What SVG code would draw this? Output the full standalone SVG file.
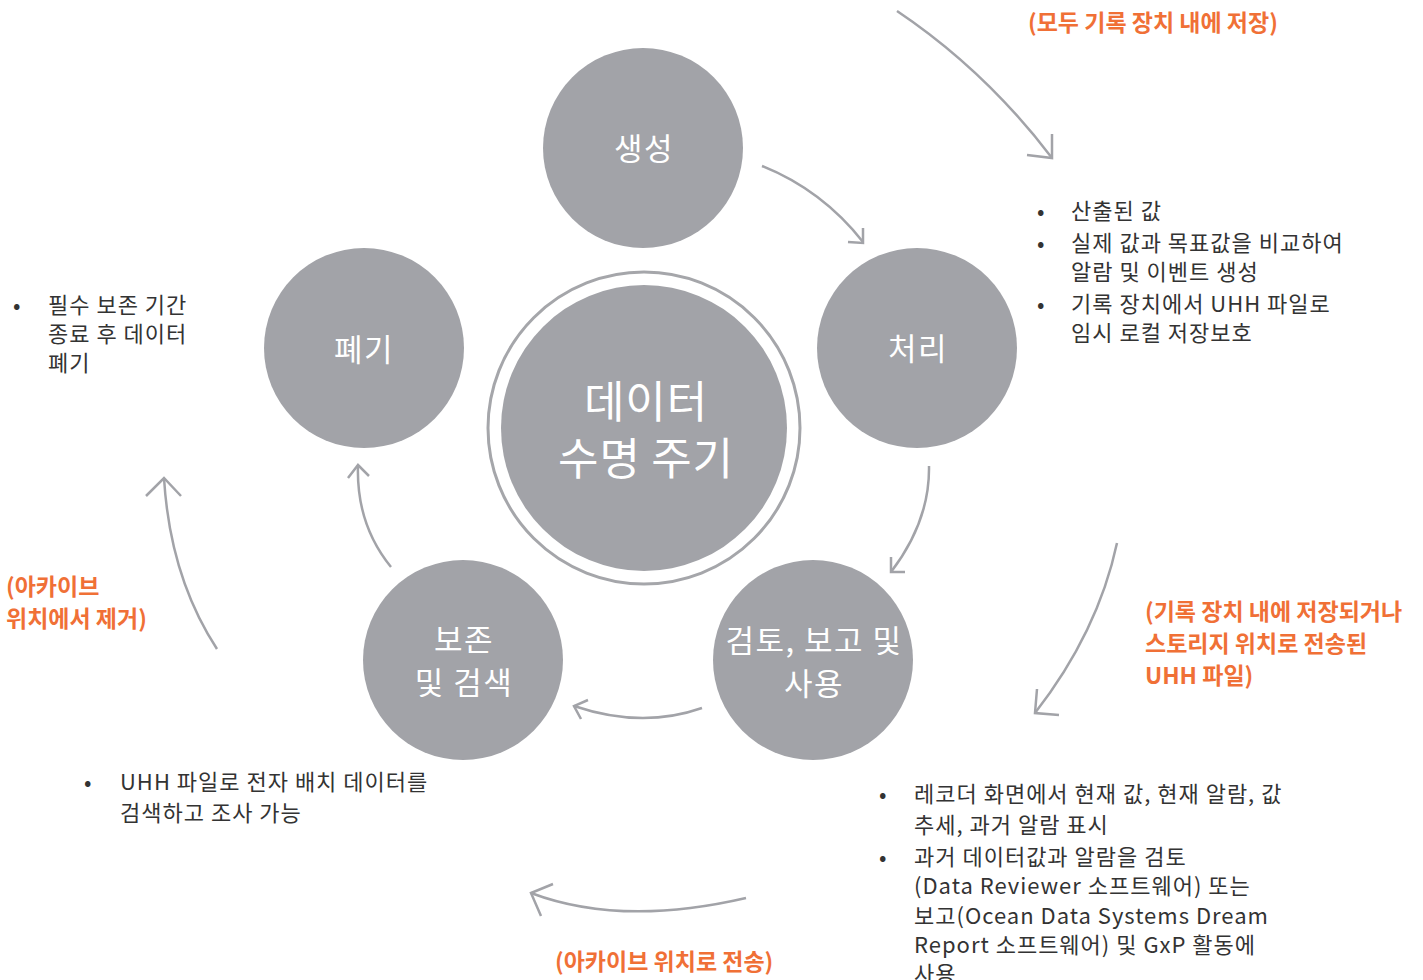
<svg xmlns="http://www.w3.org/2000/svg" width="1423" height="980" viewBox="0 0 1423 980">
<style>
  .node { fill: #a2a3a8; }
  .ring { fill: none; stroke: #a5a6aa; stroke-width: 3; }
  .lbl { font-family: "Noto Sans CJK KR", "Noto Sans", sans-serif; fill: #ffffff; text-anchor: middle; }
  .n { font-size: 31px; letter-spacing: 1.5px; }
  .big { font-size: 44px; letter-spacing: 0.8px; }
  .conn { fill: none; stroke: #a2a3a8; stroke-width: 2.5; }
  .org { font-family: "Noto Sans CJK KR", "Noto Sans", sans-serif; font-size: 23px; font-weight: bold; fill: #f07036; }
  .txt { font-family: "Noto Sans CJK KR", "Noto Sans", sans-serif; font-size: 22px; letter-spacing: 1px; fill: #333333; }
</style>
<rect width="1423" height="980" fill="#ffffff"/>

<g id="connectors">
  <path class="conn" d="M897,11 Q985,70 1052,158"/>
  <path class="conn" d="M1052,134 L1052,158 L1027,155"/>
  <path class="conn" d="M762,166 Q822,190 863,242"/>
  <path class="conn" d="M863,228 L863,243 L848,242"/>
  <path class="conn" d="M929,466 Q930,521 891,572"/>
  <path class="conn" d="M891,557 L891,572 L905,572"/>
  <path class="conn" d="M1117,543 Q1098,632 1035,713"/>
  <path class="conn" d="M1037,689 L1035,713 L1059,715"/>
  <path class="conn" d="M702,708 Q642,729 574,706"/>
  <path class="conn" d="M588,700 L574,706 L581,719"/>
  <path class="conn" d="M746,898 Q621,927 531,893"/>
  <path class="conn" d="M553,884 L531,893 L541,916"/>
  <path class="conn" d="M391,567 Q356,524 358,465"/>
  <path class="conn" d="M348,478 L358,465 L369,476"/>
  <path class="conn" d="M217,649 Q170,577 164,478"/>
  <path class="conn" d="M146,496 L164,478 L181,496"/>
</g>

<g id="center">
  <circle class="ring" cx="644" cy="428" r="156"/>
  <circle class="node" cx="644" cy="428" r="143"/>
  <text class="lbl big" x="646" y="418">데이터</text>
  <text class="lbl big" x="646" y="475">수명 주기</text>
</g>

<g id="node-create">
  <circle class="node" cx="643" cy="148" r="100"/>
  <text class="lbl n" x="644" y="160">생성</text>
</g>

<g id="node-process">
  <circle class="node" cx="917" cy="348" r="100"/>
  <text class="lbl n" x="918" y="360">처리</text>
</g>

<g id="node-review">
  <circle class="node" cx="813" cy="660" r="100"/>
  <text class="lbl n" x="814" y="652">검토, 보고 및</text>
  <text class="lbl n" x="814" y="695">사용</text>
</g>

<g id="node-preserve">
  <circle class="node" cx="463" cy="660" r="100"/>
  <text class="lbl n" x="464" y="651">보존</text>
  <text class="lbl n" x="464" y="694">및 검색</text>
</g>

<g id="node-dispose">
  <circle class="node" cx="364" cy="348" r="100"/>
  <text class="lbl n" x="364" y="361">폐기</text>
</g>

<g id="labels-orange">
  <text class="org" x="1028" y="31">(모두 기록 장치 내에 저장)</text>
  <text class="org" x="1145" y="620">(기록 장치 내에 저장되거나</text>
  <text class="org" x="1145" y="652">스토리지 위치로 전송된</text>
  <text class="org" x="1145" y="684">UHH 파일)</text>
  <text class="org" x="6" y="595">(아카이브</text>
  <text class="org" x="6" y="627">위치에서 제거)</text>
  <text class="org" x="555" y="970">(아카이브 위치로 전송)</text>
</g>

<g id="notes-process">
  <text class="txt" x="1037" y="219">•</text>
  <text class="txt" x="1071" y="219">산출된 값</text>
  <text class="txt" x="1037" y="251">•</text>
  <text class="txt" x="1071" y="251">실제 값과 목표값을 비교하여</text>
  <text class="txt" x="1071" y="280">알람 및 이벤트 생성</text>
  <text class="txt" x="1037" y="312">•</text>
  <text class="txt" x="1071" y="312">기록 장치에서 UHH 파일로</text>
  <text class="txt" x="1071" y="341">임시 로컬 저장보호</text>
</g>

<g id="notes-dispose">
  <text class="txt" x="13" y="313">•</text>
  <text class="txt" x="48" y="313">필수 보존 기간</text>
  <text class="txt" x="48" y="342">종료 후 데이터</text>
  <text class="txt" x="48" y="371">폐기</text>
</g>

<g id="notes-preserve">
  <text class="txt" x="84" y="790">•</text>
  <text class="txt" x="120" y="790">UHH 파일로 전자 배치 데이터를</text>
  <text class="txt" x="120" y="821">검색하고 조사 가능</text>
</g>

<g id="notes-review">
  <text class="txt" x="879" y="802">•</text>
  <text class="txt" x="914" y="802">레코더 화면에서 현재 값, 현재 알람, 값</text>
  <text class="txt" x="914" y="833">추세, 과거 알람 표시</text>
  <text class="txt" x="879" y="865">•</text>
  <text class="txt" x="914" y="865">과거 데이터값과 알람을 검토</text>
  <text class="txt" x="914" y="894">(Data Reviewer 소프트웨어) 또는</text>
  <text class="txt" x="914" y="924">보고(Ocean Data Systems Dream</text>
  <text class="txt" x="914" y="953">Report 소프트웨어) 및 GxP 활동에</text>
  <text class="txt" x="914" y="982">사용</text>
</g>
</svg>
